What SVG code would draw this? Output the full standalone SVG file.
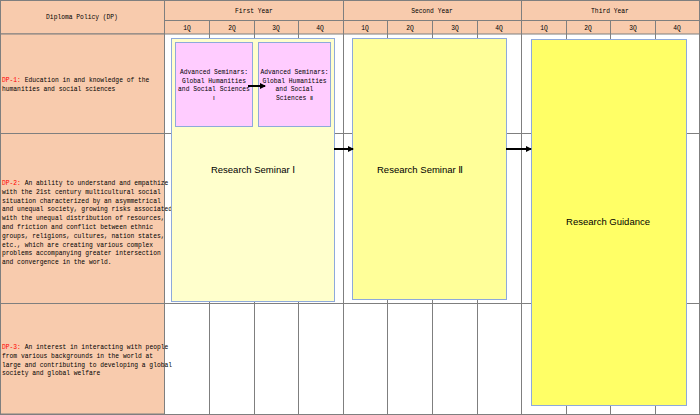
<svg xmlns="http://www.w3.org/2000/svg" width="700" height="415" viewBox="0 0 700 415">
<defs>
<style>
.hd{fill:#f8cbad;stroke:#7f7f7f;stroke-width:1}
.ln{stroke:#7f7f7f;stroke-width:1}
.t{font-family:"Liberation Mono","DejaVu Sans Mono",monospace;font-size:6.3px;fill:#000}
.c{text-anchor:middle}
.r{fill:#ff0000}
.big{font-family:"Liberation Sans","DejaVu Sans",sans-serif;font-size:9.5px;text-anchor:middle}
.box{stroke:#8ea9db;stroke-width:1}
.con{stroke:#000;stroke-width:2;fill:none;marker-end:url(#ah)}
</style>
<marker id="ah" markerWidth="6" markerHeight="6" refX="5" refY="3" orient="auto" markerUnits="userSpaceOnUse"><path d="M0,0 L6,3 L0,6 z" fill="#000"/></marker>
</defs>
<rect width="700" height="415" fill="#fff"/>
<g id="grid">
<rect class="hd" x="0.5" y="0.5" width="164" height="33.5"/>
<rect class="hd" x="164.5" y="0.5" width="535" height="20"/>
<rect class="hd" x="164.5" y="20.5" width="535" height="13.5"/>
<rect class="hd" x="0.5" y="34" width="164" height="380"/>
<line class="ln" x1="0" y1="133.5" x2="700" y2="133.5"/>
<line class="ln" x1="0" y1="303.5" x2="700" y2="303.5"/>
<line class="ln" x1="0" y1="414.5" x2="700" y2="414.5"/>
<line class="ln" x1="343.5" y1="0" x2="343.5" y2="415"/>
<line class="ln" x1="521.5" y1="0" x2="521.5" y2="415"/>
<line class="ln" x1="699.5" y1="0" x2="699.5" y2="415"/>
<g class="ln">
<line x1="209.5" y1="20" x2="209.5" y2="415"/><line x1="254.5" y1="20" x2="254.5" y2="415"/><line x1="298.5" y1="20" x2="298.5" y2="415"/>
<line x1="387.5" y1="20" x2="387.5" y2="415"/><line x1="432.5" y1="20" x2="432.5" y2="415"/><line x1="477.5" y1="20" x2="477.5" y2="415"/>
<line x1="566.5" y1="20" x2="566.5" y2="415"/><line x1="610.5" y1="20" x2="610.5" y2="415"/><line x1="655.5" y1="20" x2="655.5" y2="415"/>
</g>
<text class="t c" x="82" y="19">Diploma Policy (DP)</text>
<text class="t c" x="254" y="13">First Year</text>
<text class="t c" x="432" y="13">Second Year</text>
<text class="t c" x="610" y="13">Third Year</text>
<g class="t c">
<text x="187" y="30">1Q</text><text x="232" y="30">2Q</text><text x="276" y="30">3Q</text><text x="320" y="30">4Q</text>
<text x="365" y="30">1Q</text><text x="410" y="30">2Q</text><text x="455" y="30">3Q</text><text x="499" y="30">4Q</text>
<text x="544" y="30">1Q</text><text x="588" y="30">2Q</text><text x="633" y="30">3Q</text><text x="677" y="30">4Q</text>
</g>
<g class="t">
<text x="2" y="82"><tspan class="r">DP-1:</tspan> Education in and knowledge of the</text>
<text x="2" y="90.5">humanities and social sciences</text>
<text x="2" y="185"><tspan class="r">DP-2:</tspan> An ability to understand and empathize</text>
<text x="2" y="193.8">with the 21st century multicultural social</text>
<text x="2" y="202.6">situation characterized by an asymmetrical</text>
<text x="2" y="211.4">and unequal society, growing risks associated</text>
<text x="2" y="220.2">with the unequal distribution of resources,</text>
<text x="2" y="229">and friction and conflict between ethnic</text>
<text x="2" y="237.8">groups, religions, cultures, nation states,</text>
<text x="2" y="246.6">etc., which are creating various complex</text>
<text x="2" y="255.4">problems accompanying greater intersection</text>
<text x="2" y="264.2">and convergence in the world.</text>
<text x="2" y="349"><tspan class="r">DP-3:</tspan> An interest in interacting with people</text>
<text x="2" y="357.8">from various backgrounds in the world at</text>
<text x="2" y="366.6">large and contributing to developing a global</text>
<text x="2" y="375.4">society and global welfare</text>
</g>
</g>
<g id="seminar1"><rect class="box" x="171.5" y="38.5" width="163" height="263" fill="#ffffcc"/><text class="big" x="253" y="173">Research Seminar Ⅰ</text></g>
<g id="adv1"><rect class="box" x="175.5" y="42.5" width="77" height="84" fill="#ffccff"/>
<g class="t c"><text x="214" y="74">Advanced Seminars:</text><text x="214" y="82.5">Global Humanities</text><text x="214" y="91">and Social Sciences</text><text x="214" y="99.5">Ⅰ</text></g></g>
<g id="adv2"><rect class="box" x="258.5" y="42.5" width="72" height="84" fill="#ffccff"/>
<g class="t c"><text x="294.5" y="74">Advanced Seminars:</text><text x="294.5" y="82.5">Global Humanities</text><text x="294.5" y="91">and Social</text><text x="294.5" y="99.5">Sciences Ⅱ</text></g></g>
<g id="seminar2"><rect class="box" x="352.5" y="38.5" width="154" height="261" fill="#ffff99"/><text class="big" x="420" y="173">Research Seminar Ⅱ</text></g>
<g id="guidance"><rect class="box" x="531.5" y="39.5" width="155" height="366" fill="#ffff66"/><text class="big" x="608" y="225">Research Guidance</text></g>
<g id="connectors">
<line class="con" x1="248" y1="86" x2="265" y2="86"/>
<line class="con" x1="334" y1="149" x2="353" y2="149"/>
<line class="con" x1="506" y1="149" x2="531" y2="149"/>
</g>
</svg>
